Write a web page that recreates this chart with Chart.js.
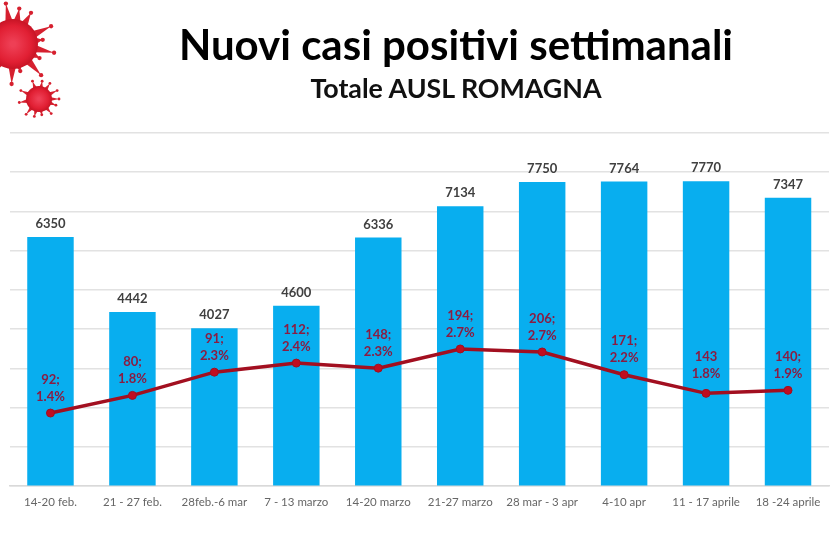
<!DOCTYPE html>
<html>
<head>
<meta charset="utf-8">
<title>Nuovi casi positivi settimanali</title>
<script src="https://cdn.jsdelivr.net/npm/chart.js@4"></script>
<style>
  body { margin: 0; background: #fff; width: 831px; height: 554px; overflow: hidden; position: relative; font-family: Lato, sans-serif; }
  #myChart { position: absolute; left: 0; top: 0; }
  .head { position: absolute; left: 81px; width: 750px; text-align: center; font-weight: 700; color: #000; white-space: nowrap; }
  #t1 { top: 19px; font-size: 42px; line-height: 50px; }
  #t2 { top: 72px; font-size: 26.8px; line-height: 32px; color: #111; }
</style>
</head>
<body>
<canvas id="myChart" width="834" height="554"></canvas>
<div class="head" id="t1">Nuovi casi positivi settimanali</div>
<div class="head" id="t2">Totale AUSL ROMAGNA</div>
<script>
var xValues = ["14-20 feb.", "21 - 27 feb.", "28feb.-6 mar", "7 - 13 marzo", "14-20 marzo", "21-27 marzo", "28 mar - 3 apr", "4-10 apr", "11 - 17 aprile", "18 -24 aprile"];
var casi = [6350, 4442, 4027, 4600, 6336, 7134, 7750, 7764, 7770, 7347];
var percentuale = [1.45, 1.8, 2.26, 2.44, 2.34, 2.72, 2.66, 2.21, 1.84, 1.9];
var etichetteNum = ["92;", "80;", "91;", "112;", "148;", "194;", "206;", "171;", "143", "140;"];
var etichettePct = ["1.4%", "1.8%", "2.3%", "2.4%", "2.3%", "2.7%", "2.7%", "2.2%", "1.8%", "1.9%"];

// the two virus pictures top left, spikes given as angle in degrees and length
var spineGrande = [[-100, 41], [-80, 36], [-60, 36], [-25, 42], [-8, 30], [12, 42], [28, 30], [48, 42], [75, 28], [92, 40], [125, 40], [-130, 30]];
var spinePiccolo = [[-110, 19], [-80, 18], [-55, 19], [-25, 20], [0, 20], [20, 18], [50, 19], [80, 16], [105, 18], [130, 20], [170, 20], [-155, 20]];

function virus(ctx, cx, cy, r, spine) {
  ctx.save();
  ctx.fillStyle = "#d6202f";
  spine.forEach(function (s) {
    var a = s[0] * Math.PI / 180;
    var ux = Math.cos(a), uy = Math.sin(a);
    var w = r * 0.16;
    ctx.beginPath();
    ctx.moveTo(cx + ux * r * 0.85 - uy * w, cy + uy * r * 0.85 + ux * w);
    ctx.lineTo(cx + ux * s[1], cy + uy * s[1]);
    ctx.lineTo(cx + ux * r * 0.85 + uy * w, cy + uy * r * 0.85 - ux * w);
    ctx.closePath();
    ctx.fill();
    ctx.beginPath();
    ctx.arc(cx + ux * s[1], cy + uy * s[1], r / 16 + 0.6, 0, Math.PI * 2);
    ctx.fill();
  });
  var g = ctx.createRadialGradient(cx, cy, r * 0.1, cx, cy, r);
  g.addColorStop(0, "#ee3f55");
  g.addColorStop(0.7, "#e11f33");
  g.addColorStop(1, "#c71425");
  ctx.fillStyle = g;
  ctx.beginPath();
  ctx.arc(cx, cy, r, 0, Math.PI * 2);
  ctx.fill();
  ctx.restore();
}

var decorazioni = {
  id: "decorazioni",
  beforeDraw: function (chart) {
    var ctx = chart.ctx;
    ctx.save();
    ctx.fillStyle = "#fff";
    ctx.fillRect(0, 0, chart.width, chart.height);
    ctx.restore();
    virus(ctx, 13, 44, 25, spineGrande);
    virus(ctx, 39, 99, 13, spinePiccolo);
  }
};

var etichette = {
  id: "etichette",
  afterDatasetsDraw: function (chart) {
    var ctx = chart.ctx;
    var bars = chart.getDatasetMeta(0).data;
    var pts = chart.getDatasetMeta(1).data;
    ctx.save();
    ctx.textAlign = "center";
    ctx.textBaseline = "middle";
    ctx.font = "700 13px Lato, sans-serif";
    ctx.fillStyle = "#404040";
    bars.forEach(function (b, i) {
      ctx.fillText(String(casi[i]), b.x, b.y - 13);
    });
    ctx.fillStyle = "#8a1c42";
    pts.forEach(function (p, i) {
      var up = i === 8 ? 20 : 16.5;
      ctx.fillText(etichetteNum[i], p.x, p.y - up - 17);
      ctx.fillText(etichettePct[i], p.x, p.y - up);
    });
    ctx.restore();
  }
};

new Chart("myChart", {
  type: "bar",
  data: {
    labels: xValues,
    datasets: [{
      type: "bar",
      data: casi,
      backgroundColor: "#08aeef",
      categoryPercentage: 1,
      barPercentage: 0.567,
      yAxisID: "y",
      order: 2
    }, {
      type: "line",
      data: percentuale,
      borderColor: "#a20f20",
      borderWidth: 3.5,
      pointBackgroundColor: "#c00d20",
      pointBorderColor: "#a20f20",
      pointBorderWidth: 1,
      pointRadius: 4,
      tension: 0,
      yAxisID: "y2",
      order: 1
    }]
  },
  options: {
    responsive: false,
    animation: false,
    layout: { padding: { left: 9.5, right: 1.5, top: 133, bottom: 43 } },
    plugins: { legend: { display: false }, title: { display: false }, tooltip: { enabled: false } },
    scales: {
      x: {
        grid: { display: false },
        border: { color: "#d9d9d9", width: 1.5 },
        ticks: {
          autoSkip: false,
          maxRotation: 0,
          minRotation: 0,
          padding: 1.5,
          color: "#666",
          font: { family: "Lato, sans-serif", size: 11.5 }
        }
      },
      y: {
        min: 0,
        max: 9000,
        ticks: { display: false, stepSize: 1000 },
        grid: { color: "#e2e2e2", lineWidth: 1.5, drawTicks: false },
        border: { display: false }
      },
      y2: {
        display: false,
        min: 0,
        max: 7
      }
    }
  },
  plugins: [decorazioni, etichette]
});
</script>
</body>
</html>
